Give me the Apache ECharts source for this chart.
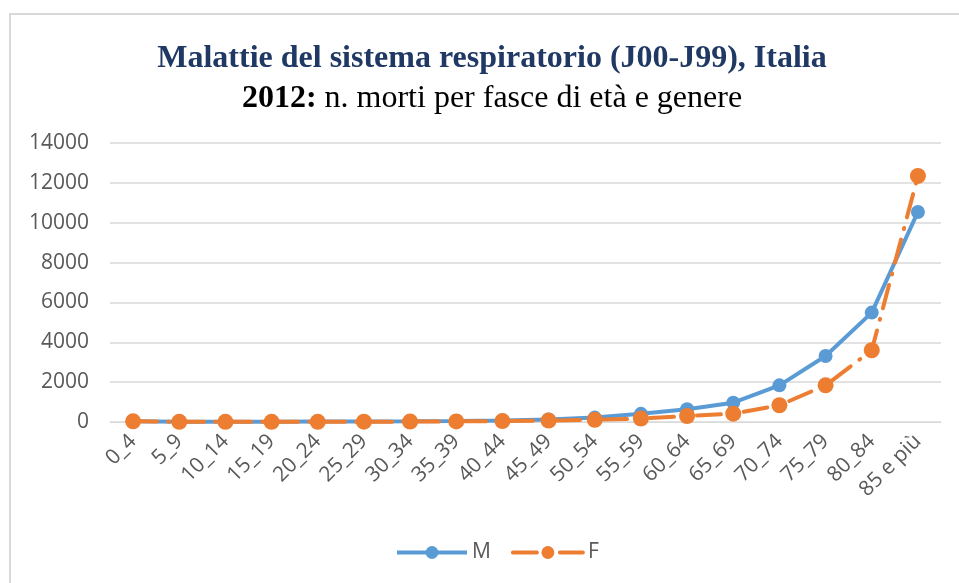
<!DOCTYPE html>
<html>
<head>
<meta charset="utf-8">
<script src="https://cdn.jsdelivr.net/npm/echarts@6/dist/echarts.min.js"></script>
<style>
	html, body { margin: 0; padding: 0; background: #fff; }
	#chart { width: 959px; height: 583px; }
</style>
</head>
<body>
<div id="chart"></div>
<script>
var fasce = ['0_4', '5_9', '10_14', '15_19', '20_24', '25_29', '30_34', '35_39', '40_44',
	'45_49', '50_54', '55_59', '60_64', '65_69', '70_74', '75_79', '80_84', '85 e più'];
var maschi = [40, 10, 10, 15, 20, 25, 35, 50, 80, 130, 220, 410, 640, 970, 1840, 3310, 5490, 10540];
var femmine = [35, 10, 10, 10, 10, 15, 20, 30, 45, 70, 110, 170, 300, 420, 840, 1840, 3600, 12350];
var yTicks = [0, 2000, 4000, 6000, 8000, 10000, 12000, 14000];

var myChart = echarts.init(document.getElementById('chart'));

var grigio = '#595959';
var font = '"Open Sans", "Noto Sans", sans-serif';
var serif = '"Liberation Serif", serif';

option = {
	backgroundColor: '#fff',
	animation: false,
	title: {
		left: 487,
		top: 34,
		textAlign: 'center',
		text: '{a|Malattie del sistema respiratorio (J00-J99), Italia}\n{b|2012:}{c| n. morti per fasce di età e genere}',
		textStyle: {
			rich: {
				a: { fontFamily: serif, fontWeight: 'bold', fontSize: 32, color: '#1F3864', lineHeight: 40 },
				b: { fontFamily: serif, fontWeight: 'bold', fontSize: 32, color: '#000', lineHeight: 40 },
				c: { fontFamily: serif, fontWeight: 'normal', fontSize: 32, color: '#000', lineHeight: 40 }
			}
		}
	},
	graphic: [{
		type: 'polyline',
		shape: { points: [[10, 583], [10, 14], [959, 14]] },
		style: { stroke: '#d9d9d9', lineWidth: 2, fill: null }
	}],
	legend: {
		left: 390,
		top: 537,
		itemWidth: 70,
		itemHeight: 16,
		itemGap: 20,
		lineStyle: { width: 4 },
		textStyle: { color: grigio, fontSize: 21, fontFamily: font },
		data: ['M', 'F']
	},
	grid: {
		left: 110,
		right: 18,
		top: 143,
		bottom: 161
	},
	xAxis: {
		type: 'category',
		data: fasce,
		axisLine: { lineStyle: { color: '#d9d9d9', width: 1 } },
		axisTick: { show: false },
		axisLabel: {
			rotate: 45,
			color: grigio,
			fontSize: 21,
			fontFamily: font,
			margin: 16,
			interval: 0
		}
	},
	yAxis: {
		type: 'value',
		min: yTicks[0],
		max: yTicks[yTicks.length - 1],
		interval: yTicks[1] - yTicks[0],
		axisLine: { show: false },
		axisTick: { show: false },
		axisLabel: {
			color: grigio,
			fontSize: 21,
			fontFamily: font,
			margin: 21,
			formatter: function(v) { return String(v); }
		},
		splitLine: { lineStyle: { color: '#d9d9d9', width: 1.5 } }
	},
	series: [{
		name: 'M',
		type: 'line',
		data: maschi,
		symbol: 'circle',
		symbolSize: 14,
		itemStyle: { color: '#5B9BD5' },
		lineStyle: { color: '#5B9BD5', width: 4 }
	}, {
		name: 'F',
		type: 'line',
		data: femmine,
		symbol: 'circle',
		symbolSize: 16,
		itemStyle: { color: '#ED7D31' },
		lineStyle: { color: '#ED7D31', width: 4, type: [24, 11, 1, 11], cap: 'round' }
	}]
};
myChart.setOption(option);
</script>
</body>
</html>
